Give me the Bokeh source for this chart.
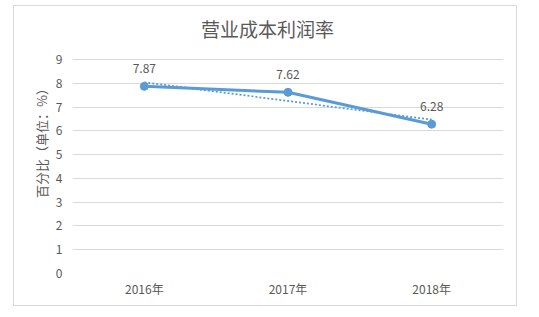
from bokeh.plotting import figure
from bokeh.models import FactorRange, Range1d, FixedTicker, ColumnDataSource, Label
from bokeh.embed import file_html
from bokeh.resources import INLINE
from bokeh.core.properties import value

title_text = "营业成本利润率"
y_title = "百分比（单位：%）"
years = ["2016年", "2017年", "2018年"]
rates = [7.87, 7.62, 6.28]
rate_labels = ["7.87", "7.62", "6.28"]
trend_years = ["2016年", "2018年"]
trend_values = [8.04, 6.47]
y_ticks = [0, 1, 2, 3, 4, 5, 6, 7, 8, 9]

FONT = "Noto Sans CJK SC"
TXT = "#595959"
BLUE = "#5B9BD5"

# frame spans from the top of the chart box down to the 0 line; value 9 sits 214 px above 0
FRAME_H = 267
Y_TOP = 9 * FRAME_H / 214

p = figure(width=504, height=301, x_range=FactorRange(*years, range_padding=0),
           y_range=Range1d(0, Y_TOP), output_backend="svg", toolbar_location=None,
           min_border_left=58, min_border_right=15, min_border_top=0, min_border_bottom=34)
p.margin = (5, 0, 0, 13)
p.styles = {"border": "1px solid #D9D9D9"}
p.outline_line_color = None
p.background_fill_color = "white"
p.border_fill_color = "white"

p.xgrid.grid_line_color = None
p.ygrid.grid_line_color = "#D9D9D9"
p.ygrid.grid_line_width = 1

p.yaxis.ticker = FixedTicker(ticks=y_ticks)
for ax in (p.xaxis[0], p.yaxis[0]):
    ax.axis_line_color = None
    ax.major_tick_line_color = None
    ax.minor_tick_line_color = None
    ax.major_label_text_font = FONT
    ax.major_label_text_font_size = "12px"
    ax.major_label_text_color = TXT
p.yaxis.major_label_standoff = 4
p.xaxis.major_label_standoff = 0
p.yaxis.axis_label = y_title
p.yaxis.axis_label_text_font = FONT
p.yaxis.axis_label_text_font_size = "13px"
p.yaxis.axis_label_text_font_style = "normal"
p.yaxis.axis_label_text_color = TXT
p.yaxis.axis_label_standoff = 2

src = ColumnDataSource(dict(x=years, y=rates, t=rate_labels))
p.line(trend_years, trend_values, line_color=BLUE, line_width=1.75, line_dash="2 2")
p.line("x", "y", source=src, line_color=BLUE, line_width=3)
p.scatter("x", "y", source=src, size=8, fill_color=BLUE, line_color=BLUE)
p.text("x", "y", text="t", source=src, y_offset=-18, text_align="center", text_baseline="middle",
       text_font=value(FONT), text_font_size="12px", text_color=TXT)

p.add_layout(Label(x=195, y=FRAME_H - 22, x_units="screen", y_units="screen", text=title_text,
                   text_align="center", text_baseline="middle", text_font=FONT,
                   text_font_size="19px", text_color=TXT))

open("out.html", "w").write(file_html(p, INLINE))
